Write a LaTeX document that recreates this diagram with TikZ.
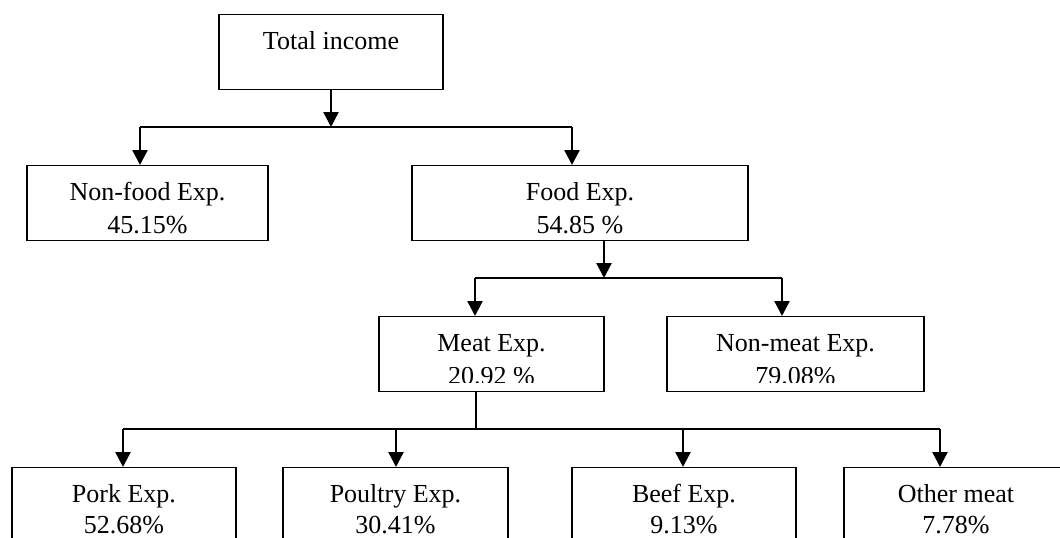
\documentclass[tikz,border=0pt]{standalone}
\usepackage{fontspec}
\setmainfont{Liberation Serif}
\usepackage{trimclip}
\usetikzlibrary{arrows.meta}
\newcommand{\lines}[2]{\parbox[t]{100pt}{\centering #1\\#2}}
\newcommand{\cutline}[1]{\raisebox{1.15pt}{\clipbox{0pt 1.15pt 0pt 0pt}{\raisebox{0pt}[\height][0pt]{#1}}}}

\begin{document}
\begin{tikzpicture}[x=0.5pt,y=-0.5pt,
  box/.style={draw,line width=0.7pt,inner sep=0pt,anchor=north,
    text height=17.5pt,text depth=20pt,minimum height=37.5pt,
    font=\fontsize{13}{16.5}\selectfont},
  leaf/.style={box,font=\fontsize{13}{15.5}\selectfont},
  link/.style={line width=0.7pt},
  arr/.style={line width=1.2pt,-{Triangle[length=7.5pt,width=7.5pt]}}]
\useasboundingbox (0,0) rectangle (1060,537);
\clip (0,0) rectangle (1060,537);

\node[box,minimum width=112pt] (total) at (331,14) {\lines{Total income}{}}; %level 0

\node[box,minimum width=120.5pt] (nonfood) at (147.5,165) {\lines{Non-food Exp.}{45.15\%}}; %level 1
\node[box,minimum width=168pt] (food) at (580,165) {\lines{Food Exp.}{54.85 \%}};

\node[box,minimum width=112.5pt] (meat) at (491.5,316) {\lines{Meat Exp.}{\cutline{20.92 \%}}}; %level 2
\node[box,minimum width=128.5pt] (nonmeat) at (795.5,316) {\lines{Non-meat Exp.}{\cutline{79.08\%}}};

\node[leaf,minimum width=112pt] (pork) at (124,467) {\lines{Pork Exp.}{52.68\%}}; %level 3
\node[leaf,minimum width=112.5pt] (poultry) at (395.5,467) {\lines{Poultry Exp.}{30.41\%}};
\node[leaf,minimum width=112pt] (beef) at (684,467) {\lines{Beef Exp.}{9.13\%}};
\node[leaf,minimum width=112pt] (other) at (956,467) {\lines{Other meat}{7.78\%}};

\coordinate (split0) at (331,127); %branch points
\coordinate (split0l) at (140,127);
\coordinate (split0r) at (572,127);
\coordinate (split1) at (604,278);
\coordinate (split1l) at (475,278);
\coordinate (split1r) at (782,278);
\coordinate (split2) at (476,429);
\coordinate (split2a) at (123,429);
\coordinate (split2b) at (396,429);
\coordinate (split2c) at (683,429);
\coordinate (split2d) at (940,429);

\draw[arr] (total.south) -- (split0); %income split
\draw[link] (split0l) -- (split0r);
\draw[arr] (split0l) -- (split0l |- nonfood.north);
\draw[arr] (split0r) -- (split0r |- food.north);

\draw[arr] (split1 |- food.south) -- (split1); %food split
\draw[link] (split1l) -- (split1r);
\draw[arr] (split1l) -- (split1l |- meat.north);
\draw[arr] (split1r) -- (split1r |- nonmeat.north);

\draw[link] (split2 |- meat.south) -- (split2); %meat split
\draw[link] (split2a) -- (split2d);
\draw[arr] (split2a) -- (split2a |- pork.north);
\draw[arr] (split2b) -- (split2b |- poultry.north);
\draw[arr] (split2c) -- (split2c |- beef.north);
\draw[arr] (split2d) -- (split2d |- other.north);

\end{tikzpicture}
\end{document}
